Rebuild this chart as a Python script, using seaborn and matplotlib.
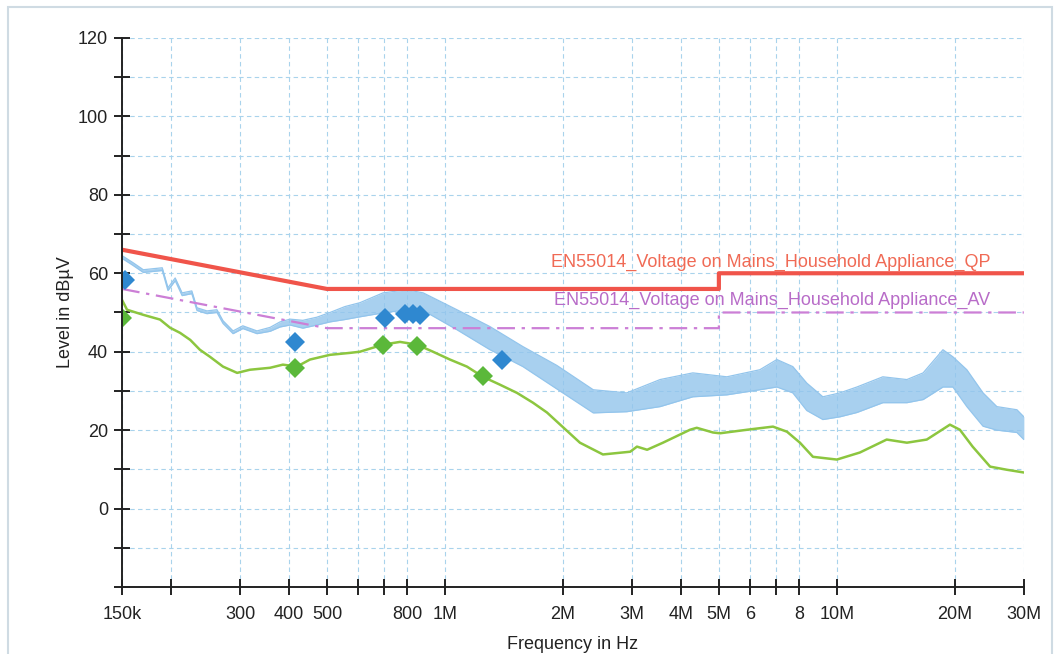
import numpy as np
import pandas as pd
import matplotlib
matplotlib.use('Agg')
import matplotlib.pyplot as plt
import seaborn as sns

# =============================================================================
#  EN55014 conducted emission scan (frequencies in MHz, level in dBuV)
# =============================================================================

# limit lines
qp_freq = [0.15, 0.5, 5, 5, 30]
qp_level = [66, 56, 56, 60, 60]
av_freq = [0.15, 0.5, 5, 5, 30]
av_level = [56, 46, 46, 50, 50]

# peak trace (blue) read as lower / upper edge of the noisy band
peak_freq = [0.15, 0.16, 0.17, 0.19, 0.1965, 0.205, 0.2135, 0.226, 0.233, 0.247,
             0.262, 0.2715, 0.288, 0.305, 0.3315, 0.358, 0.3795, 0.4025, 0.434,
             0.4715, 0.509, 0.5555, 0.607, 0.695, 0.80, 0.88, 1.073, 1.303,
             1.581, 1.93, 2.39, 2.91, 3.54, 4.29, 5.24, 6.36, 7.03, 7.72, 8.38,
             9.21, 10.18, 11.25, 13.1, 15.09, 16.6, 18.65, 19.77, 21.46, 23.6,
             25.6, 28.8, 30]
peak_lo = [63.8, 62.0, 60.2, 60.7, 55.6, 58.1, 54.3, 54.8, 50.5, 49.7,
           50.0, 47.2, 44.6, 45.9, 44.6, 45.2, 46.3, 46.8, 46.0,
           46.8, 47.6, 48.2, 48.9, 49.9, 50.7, 50.5, 45.6, 40.5,
           36.2, 30.5, 24.4, 24.7, 26.0, 28.5, 29.0, 30.3, 31.0, 29.5, 25.0,
           22.7, 23.4, 24.5, 27.0, 27.0, 27.8, 31.0, 31.0, 26.0, 21.0,
           20.0, 19.4, 17.6]
peak_hi = [64.5, 62.7, 60.9, 61.4, 56.3, 58.8, 55.0, 55.5, 51.2, 50.4,
           50.7, 47.9, 45.3, 46.6, 45.3, 46.2, 47.6, 48.3, 48.0,
           48.8, 50.0, 51.5, 52.5, 55.0, 55.8, 55.0, 50.7, 46.4,
           41.3, 36.5, 30.3, 29.5, 32.9, 34.6, 33.6, 35.4, 38.0, 36.2, 32.0,
           28.5, 29.5, 31.0, 33.6, 32.9, 34.6, 40.5, 38.7, 35.4, 29.5,
           26.0, 25.2, 23.4]

# average trace (green)
avg_freq = [0.15, 0.1545, 0.17, 0.1875, 0.199, 0.211, 0.224, 0.237, 0.2515, 0.2715,
            0.295, 0.318, 0.358, 0.386, 0.419, 0.4525, 0.509, 0.5725, 0.607, 0.695,
            0.768, 0.8485, 0.932, 1.03, 1.138, 1.25, 1.381, 1.527, 1.677, 1.821,
            2.21, 2.53, 2.97, 3.09, 3.28, 3.6, 4.22, 4.39, 4.83, 5.03, 5.9, 6.87,
            7.46, 8.05, 8.69, 10.0, 11.45, 13.4, 15.09, 16.96, 19.43, 20.6, 22.2,
            24.6, 27.15, 30]
avg_level = [53.2, 50.7, 49.4, 48.2, 46.1, 44.8, 43.0, 40.5, 38.7, 36.2,
             34.6, 35.4, 35.9, 36.7, 36.2, 38.0, 39.2, 39.7, 40.0, 41.8,
             42.5, 41.8, 40.0, 38.0, 36.2, 33.6, 31.6, 29.5, 27.0, 24.5,
             16.8, 13.8, 14.5, 15.8, 15.0, 16.8, 20.1, 20.6, 19.4, 19.2, 20.1, 20.9,
             19.6, 16.8, 13.2, 12.5, 14.3, 17.6, 16.8, 17.6, 21.4, 20.1, 15.8,
             10.7, 9.9, 9.2]

# final measurement points
qp_pts_freq = [0.153, 0.414, 0.703, 0.79, 0.83, 0.864, 1.4]
qp_pts_level = [58.3, 42.6, 48.7, 49.6, 49.6, 49.4, 38.0]
av_pts_freq = [0.15, 0.414, 0.693, 0.847, 1.25]
av_pts_level = [48.6, 35.9, 41.8, 41.4, 33.7]

x_ticks = [0.15, 0.2, 0.3, 0.4, 0.5, 0.6, 0.7, 0.8, 1, 2, 3, 4, 5, 6, 7, 8, 10, 20, 30]
x_tick_labels = ['150k', '', '300', '400', '500', '', '', '800', '1M', '2M', '3M',
                 '4M', '5M', '6', '', '8', '10M', '20M', '30M']
y_ticks = list(range(-20, 121, 10))
y_tick_labels = [str(v) if (v % 20 == 0 and v >= 0) else '' for v in y_ticks]

qp_name = 'EN55014_Voltage on Mains_Household Appliance_QP'
av_name = 'EN55014_Voltage on Mains_Household Appliance_AV'

sns.set_theme(style='white')
plt.rcParams['font.family'] = ['Liberation Sans', 'DejaVu Sans']

fig = plt.figure(figsize=(10.61, 6.54), dpi=100)
ax = fig.add_axes([0.115, 0.1024, 0.85, 0.8396])

# outer frame of the screenshot
fig.patches.append(plt.Rectangle((0.0075, -0.05), 0.984, 1.04, transform=fig.transFigure,
                                 fill=False, edgecolor='#cfdbe3', lw=1.5))

blue = '#93c5ec'
ax.fill_between(peak_freq, peak_lo, peak_hi, color=blue, alpha=0.8, lw=0, zorder=2)
ax.plot(peak_freq, peak_lo, color=blue, lw=0.9, zorder=2)
ax.plot(peak_freq, peak_hi, color=blue, lw=0.9, zorder=2)

avg_df = pd.DataFrame({'f': avg_freq, 'lvl': avg_level})
sns.lineplot(data=avg_df, x='f', y='lvl', ax=ax, color='#8cc63f', lw=1.8,
             estimator=None, sort=False, zorder=3)

qp_df = pd.DataFrame({'f': qp_freq, 'lvl': qp_level})
av_df = pd.DataFrame({'f': av_freq, 'lvl': av_level})
sns.lineplot(data=qp_df, x='f', y='lvl', ax=ax, color='#f0544a', lw=3,
             estimator=None, sort=False, zorder=4)
sns.lineplot(data=av_df, x='f', y='lvl', ax=ax, color='#cc7fd6', lw=1.6,
             estimator=None, sort=False, zorder=4, linestyle=(0, (8, 3, 1.5, 3)))

ax.plot(qp_pts_freq, qp_pts_level, 'D', color='#2f88d0', ms=10.5, mew=0, zorder=5)
ax.plot(av_pts_freq, av_pts_level, 'D', color='#5bb83a', ms=10.5, mew=0, zorder=5)

ax.text(24.6, 62.7, qp_name, ha='right', va='center', fontsize=13, color='#f06a55')
ax.text(24.6, 53.0, av_name, ha='right', va='center', fontsize=13, color='#b86cc8')

ax.set_xscale('log')
ax.set_xlim(0.15, 30)
ax.set_ylim(-20, 120)
ax.set_xticks(x_ticks)
ax.set_xticklabels(x_tick_labels)
ax.xaxis.set_minor_locator(matplotlib.ticker.NullLocator())
ax.set_yticks(y_ticks)
ax.set_yticklabels(y_tick_labels)

ax.grid(True, color='#a9d3ec', lw=0.8, linestyle=(0, (4, 3)))
ax.set_axisbelow(True)
ax.tick_params(axis='both', direction='inout', length=12, width=1.4, color='#222222',
               labelsize=13, labelcolor='#222222', left=True, bottom=True)
ax.tick_params(axis='x', pad=8)
ax.tick_params(axis='y', pad=4)

for side in ['top', 'right']:
    ax.spines[side].set_visible(False)
for side in ['left', 'bottom']:
    ax.spines[side].set_color('#222222')
    ax.spines[side].set_linewidth(1.4)
    ax.spines[side].set_zorder(6)

ax.set_xlabel('Frequency in Hz', fontsize=13, color='#222222', labelpad=9)
ax.set_ylabel('Level in dBµV', fontsize=13, color='#222222', labelpad=3)

fig.savefig('out.png', dpi=100)
